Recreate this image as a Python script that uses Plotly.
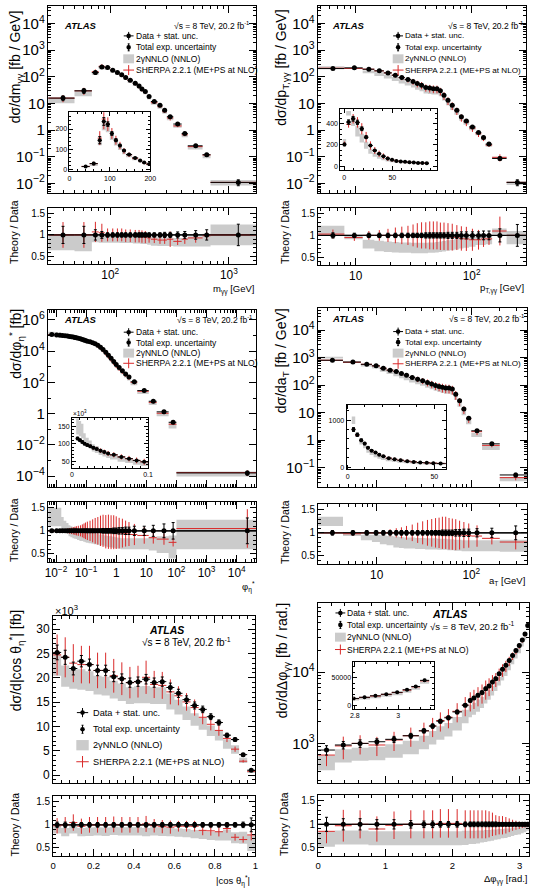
import numpy as np
import plotly.graph_objects as go

W, H = 543, 895
FONT = "Liberation Sans, Arial, Helvetica, sans-serif"
GREY = "#cbcbcb"
RED = "#d92a2a"

# ---------------- data: m_yy ----------------
myy_edges = [30, 50, 70, 80, 90, 100, 110, 120, 130, 140, 155, 170, 180, 190, 205, 220, 250, 275, 300, 340, 400, 450, 600, 700, 1700]
myy_xsec = [16, 30, 145, 237, 224, 178, 145, 119, 94, 75, 58, 45, 35, 28, 18.3, 11.9, 8.7, 5.6, 3.2, 1.7, 0.75, 0.26, 0.12, 0.011]
myy_tot = [0.2, 0.2, 0.12, 0.08, 0.05, 0.05, 0.05, 0.05, 0.05, 0.05, 0.05, 0.05, 0.05, 0.05, 0.05, 0.05, 0.05, 0.06, 0.06, 0.07, 0.08, 0.1, 0.12, 0.25]
myy_nnlo_r = [0.82, 0.80, 0.92, 0.90, 0.90, 0.90, 0.90, 0.89, 0.89, 0.89, 0.88, 0.88, 0.87, 0.87, 0.86, 0.85, 0.84, 0.84, 0.84, 0.83, 0.83, 0.85, 0.88, 1.0]
myy_nnlo_hw = [0.18, 0.18, 0.09, 0.08, 0.08, 0.08, 0.08, 0.08, 0.08, 0.08, 0.08, 0.08, 0.08, 0.08, 0.09, 0.1, 0.1, 0.1, 0.1, 0.1, 0.1, 0.12, 0.15, 0.24]
myy_sherpa_r = [1.0, 1.0, 1.07, 1.05, 1.0, 1.0, 1.0, 1.0, 0.98, 0.98, 0.97, 0.97, 0.96, 0.95, 0.93, 0.9, 0.88, 0.88, 0.9, 0.85, 0.9, 0.93, 0.98, 1.0]
myy_sherpa_e = [0.3, 0.3, 0.22, 0.2, 0.15, 0.15, 0.15, 0.15, 0.15, 0.15, 0.15, 0.15, 0.15, 0.15, 0.12, 0.1, 0.1, 0.1, 0.2, 0.1, 0.12, 0.12, 0.1, 0.05]

# ---------------- data: pT,yy ----------------
pt_edges = [4.75, 8, 11.5, 14.5, 17.5, 20.5, 23.5, 26.5, 30, 32.5, 35.5, 38.5, 42, 45, 48.5, 52, 55.5, 60, 65, 71, 78, 85, 95, 108, 121, 132, 150, 200, 295]
pt_xsec = [205, 218, 194, 168, 141, 116, 94, 79, 67, 56, 49, 40, 38, 36, 35.5, 30, 20.5, 13.3, 8.7, 5.6, 3.2, 2.2, 1.33, 0.82, 0.53, 0.3, 0.087, 0.011]
pt_tot = [0.06, 0.05, 0.05, 0.05, 0.05, 0.05, 0.05, 0.05, 0.05, 0.05, 0.05, 0.06, 0.06, 0.06, 0.06, 0.06, 0.06, 0.07, 0.07, 0.07, 0.08, 0.08, 0.08, 0.08, 0.1, 0.1, 0.15, 0.25]
pt_nnlo_r = [1.12, 0.96, 0.8, 0.76, 0.74, 0.73, 0.72, 0.72, 0.71, 0.71, 0.71, 0.71, 0.72, 0.72, 0.73, 0.74, 0.75, 0.77, 0.78, 0.8, 0.82, 0.84, 0.86, 0.88, 0.88, 0.9, 1.1, 0.95]
pt_nnlo_hw = [0.1, 0.05, 0.1, 0.12, 0.12, 0.12, 0.12, 0.12, 0.12, 0.12, 0.12, 0.12, 0.12, 0.12, 0.12, 0.12, 0.12, 0.12, 0.12, 0.12, 0.12, 0.12, 0.12, 0.1, 0.1, 0.1, 0.06, 0.15]
pt_sherpa_r = [1.03, 0.95, 1.0, 1.0, 1.0, 1.0, 1.0, 1.0, 1.0, 1.0, 1.0, 1.0, 1.0, 1.0, 1.0, 0.98, 0.98, 0.97, 0.96, 0.95, 0.93, 0.92, 0.9, 0.9, 0.92, 0.92, 1.1, 1.0]
pt_sherpa_e = [0.1, 0.08, 0.1, 0.12, 0.15, 0.18, 0.2, 0.22, 0.25, 0.28, 0.3, 0.3, 0.32, 0.32, 0.32, 0.32, 0.32, 0.32, 0.32, 0.3, 0.3, 0.3, 0.28, 0.25, 0.2, 0.15, 0.3, 0.05]
# pT inset (linear view)
pt_in_edges = [-1.5, 2, 7, 11.5, 16, 20.5, 25, 29.5, 34, 38.5, 43, 47.5, 52, 56.5, 61, 65.5, 70, 74.5, 79, 83.5, 88]
pt_in_xsec = [205, 416, 447, 413, 353, 274, 195, 148, 117, 94, 72, 60, 50, 44, 41, 38, 35, 31, 31, 28]
pt_in_nnlo_r = [1.15, 1.2, 0.95, 0.8, 0.75, 0.72, 0.72, 0.72, 0.72, 0.72, 0.73, 0.74, 0.75, 0.76, 0.77, 0.78, 0.8, 0.82, 0.84, 0.85]

# ---------------- data: phi_eta* ----------------
phi_edges = [0.0055, 0.009, 0.012, 0.015, 0.018, 0.022, 0.026, 0.03, 0.035, 0.04, 0.045, 0.05, 0.06, 0.07, 0.08, 0.09, 0.1, 0.12, 0.15, 0.18, 0.22, 0.27, 0.33, 0.4, 0.5, 0.6, 0.75, 0.9, 1.1, 1.4, 1.8, 2.3, 3, 5, 12, 22, 55, 100, 45000]
phi_xsec = [115000, 110000, 105000, 100000, 96000, 93000, 88000, 85000, 80000, 76000, 72000, 68000, 62000, 57000, 52000, 48000, 44000, 40000, 35000, 30000, 24000, 18000, 13000, 8500, 5500, 3500, 2200, 1400, 900, 560, 350, 220, 110, 30, 6.2, 1.3, 0.28, 0.00016]
phi_tot = [0.03, 0.03, 0.03, 0.03, 0.03, 0.03, 0.03, 0.03, 0.03, 0.03, 0.03, 0.03, 0.03, 0.03, 0.03, 0.03, 0.04, 0.04, 0.04, 0.04, 0.04, 0.04, 0.05, 0.05, 0.05, 0.05, 0.06, 0.06, 0.07, 0.07, 0.08, 0.08, 0.1, 0.1, 0.12, 0.15, 0.18, 0.28]
phi_nnlo_r = [1.3, 1.3, 1.3, 1.15, 1.1, 1.05, 1.0, 0.98, 0.96, 0.95, 0.94, 0.92, 0.9, 0.9, 0.88, 0.87, 0.86, 0.85, 0.84, 0.83, 0.82, 0.8, 0.8, 0.78, 0.77, 0.76, 0.75, 0.74, 0.73, 0.72, 0.72, 0.72, 0.72, 0.72, 0.72, 0.7, 0.65, 0.92]
phi_nnlo_hw = [0.2, 0.2, 0.2, 0.15, 0.12, 0.12, 0.12, 0.12, 0.12, 0.12, 0.12, 0.12, 0.12, 0.12, 0.12, 0.12, 0.12, 0.12, 0.12, 0.12, 0.12, 0.12, 0.12, 0.12, 0.12, 0.12, 0.12, 0.12, 0.12, 0.12, 0.12, 0.12, 0.12, 0.12, 0.15, 0.18, 0.25, 0.32]
phi_sherpa_r = [1.0, 1.0, 1.0, 1.0, 1.0, 1.0, 1.0, 1.0, 1.0, 1.0, 1.0, 1.0, 1.0, 1.0, 1.0, 1.0, 1.0, 1.0, 1.0, 1.0, 1.0, 1.0, 1.0, 0.98, 0.98, 0.97, 0.97, 0.96, 0.95, 0.95, 0.94, 0.93, 0.92, 0.9, 0.85, 0.82, 0.75, 1.05]
phi_sherpa_e = [0.02, 0.02, 0.03, 0.03, 0.04, 0.05, 0.06, 0.07, 0.08, 0.09, 0.1, 0.11, 0.12, 0.14, 0.16, 0.18, 0.2, 0.22, 0.25, 0.28, 0.3, 0.33, 0.35, 0.37, 0.38, 0.38, 0.38, 0.37, 0.35, 0.33, 0.3, 0.28, 0.25, 0.2, 0.15, 0.15, 0.12, 0.4]

# ---------------- data: a_T ----------------
at_edges = [2.4, 4.4, 6.8, 8.9, 10.8, 12.7, 15, 17.2, 19.3, 22, 25.5, 28.7, 32.5, 36.3, 40, 43.8, 47.5, 51.5, 55.8, 60.5, 65.5, 71.5, 79, 88, 100, 130, 200, 390]
at_xsec = [800, 690, 570, 500, 410, 350, 310, 265, 230, 190, 165, 145, 125, 110, 97, 90, 83, 78, 78, 72, 47, 27, 13.5, 6.3, 2.2, 0.74, 0.055]
at_tot = [0.05, 0.05, 0.05, 0.05, 0.05, 0.05, 0.05, 0.05, 0.05, 0.05, 0.05, 0.05, 0.05, 0.05, 0.05, 0.05, 0.06, 0.06, 0.06, 0.06, 0.07, 0.07, 0.08, 0.08, 0.09, 0.1, 0.15]
at_nnlo_r = [1.25, 0.97, 0.9, 0.88, 0.85, 0.83, 0.8, 0.79, 0.78, 0.78, 0.77, 0.77, 0.76, 0.76, 0.76, 0.75, 0.75, 0.75, 0.74, 0.74, 0.73, 0.73, 0.72, 0.72, 0.72, 0.72, 0.72]
at_nnlo_hw = [0.1, 0.04, 0.06, 0.08, 0.1, 0.1, 0.12, 0.12, 0.12, 0.12, 0.12, 0.12, 0.12, 0.12, 0.12, 0.12, 0.12, 0.12, 0.12, 0.12, 0.12, 0.12, 0.12, 0.12, 0.12, 0.12, 0.13]
at_sherpa_r = [1.0, 0.98, 1.0, 1.0, 1.0, 1.0, 1.0, 1.0, 1.0, 1.0, 1.0, 1.0, 1.0, 1.0, 1.0, 1.0, 1.0, 1.0, 0.98, 0.97, 0.96, 0.95, 0.95, 0.94, 0.93, 0.88, 0.8]
at_sherpa_e = [0.05, 0.05, 0.05, 0.05, 0.06, 0.08, 0.1, 0.12, 0.15, 0.18, 0.22, 0.25, 0.28, 0.3, 0.32, 0.33, 0.35, 0.35, 0.35, 0.35, 0.35, 0.33, 0.3, 0.28, 0.25, 0.15, 0.2]

# ---------------- data: |cos theta_eta*| (values in 10^3 fb) ----------------
cos_edges = [0, 0.04, 0.08, 0.12, 0.16, 0.2, 0.24, 0.28, 0.32, 0.36, 0.4, 0.44, 0.48, 0.52, 0.56, 0.6, 0.64, 0.68, 0.72, 0.76, 0.8, 0.84, 0.88, 0.92, 0.96, 1.0]
cos_xsec = [25.2, 24.2, 21.9, 23.4, 22.7, 21.5, 21.5, 20.2, 19.8, 19.0, 19.2, 19.7, 19.0, 19.2, 18.0, 16.8, 15.5, 14.3, 13.5, 12.0, 10.8, 8.2, 7.3, 4.2, 1.0]
cos_tot = [0.06, 0.06, 0.06, 0.05, 0.05, 0.05, 0.05, 0.05, 0.05, 0.05, 0.05, 0.05, 0.05, 0.05, 0.05, 0.05, 0.05, 0.05, 0.05, 0.05, 0.05, 0.05, 0.05, 0.06, 0.15]
cos_nnlo_r = [0.9, 0.84, 0.9, 0.84, 0.85, 0.86, 0.85, 0.87, 0.86, 0.86, 0.86, 0.84, 0.86, 0.85, 0.84, 0.83, 0.82, 0.8, 0.78, 0.76, 0.76, 0.78, 0.72, 0.72, 0.6]
cos_nnlo_hw = [0.09, 0.09, 0.09, 0.09, 0.09, 0.09, 0.09, 0.09, 0.09, 0.09, 0.09, 0.09, 0.09, 0.09, 0.09, 0.09, 0.09, 0.09, 0.09, 0.09, 0.1, 0.12, 0.12, 0.13, 0.17]
cos_sherpa_r = [0.98, 1.0, 1.05, 0.97, 1.0, 1.0, 1.0, 1.01, 1.0, 1.0, 1.0, 1.02, 0.98, 0.96, 0.95, 0.97, 0.97, 0.97, 0.88, 0.87, 0.85, 0.92, 0.73, 0.68, 0.78]
cos_sherpa_e = [0.17, 0.17, 0.17, 0.17, 0.17, 0.17, 0.17, 0.17, 0.17, 0.17, 0.17, 0.17, 0.15, 0.15, 0.15, 0.12, 0.12, 0.12, 0.12, 0.12, 0.12, 0.1, 0.1, 0.1, 0.15]

# ---------------- data: delta phi_yy ----------------
dphi_edges = [0, 0.25, 0.5, 0.75, 1.0, 1.26, 1.5, 1.65, 1.76, 1.88, 2.0, 2.14, 2.24, 2.29, 2.35, 2.41, 2.47, 2.52, 2.57, 2.62, 2.67, 2.72, 2.77, 2.82, 2.87, 2.92, 2.97, 3.02, 3.06, 3.1, 3.1416]
dphi_xsec = [807, 950, 1000, 1055, 1140, 1280, 1500, 1750, 2050, 2280, 2760, 3430, 4000, 4330, 4720, 5150, 5850, 6380, 7240, 8070, 9480, 10900, 12400, 14500, 17100, 20000, 23500, 28000, 34000, 45000]
dphi_tot = [0.15, 0.12, 0.12, 0.1, 0.1, 0.08, 0.07, 0.07, 0.06, 0.06, 0.06, 0.05, 0.05, 0.05, 0.05, 0.05, 0.05, 0.05, 0.05, 0.05, 0.04, 0.04, 0.04, 0.04, 0.04, 0.04, 0.04, 0.04, 0.04, 0.04]
dphi_nnlo_r = [0.68, 0.72, 0.72, 0.7, 0.7, 0.7, 0.7, 0.7, 0.7, 0.7, 0.7, 0.71, 0.72, 0.72, 0.73, 0.74, 0.75, 0.76, 0.77, 0.78, 0.79, 0.8, 0.81, 0.82, 0.84, 0.85, 0.86, 0.88, 0.9, 0.92]
dphi_nnlo_hw = [0.16, 0.15, 0.15, 0.15, 0.15, 0.15, 0.15, 0.15, 0.15, 0.15, 0.15, 0.15, 0.14, 0.14, 0.14, 0.13, 0.13, 0.12, 0.12, 0.11, 0.11, 0.1, 0.1, 0.09, 0.09, 0.08, 0.08, 0.07, 0.07, 0.06]
dphi_sherpa_r = [0.85, 0.97, 1.0, 0.9, 0.98, 1.0, 1.0, 1.0, 1.02, 1.02, 1.02, 1.0, 1.0, 1.0, 1.0, 1.0, 1.0, 1.0, 1.0, 0.98, 0.98, 0.98, 0.98, 0.98, 0.98, 0.98, 0.98, 0.98, 0.98, 0.98]
dphi_sherpa_e = [0.3, 0.35, 0.3, 0.3, 0.3, 0.3, 0.3, 0.3, 0.3, 0.3, 0.3, 0.3, 0.3, 0.3, 0.3, 0.3, 0.3, 0.28, 0.25, 0.22, 0.2, 0.2, 0.18, 0.15, 0.12, 0.1, 0.08, 0.06, 0.05, 0.04]

# ---------------- helpers ----------------
fig = go.Figure()
L = dict(width=W, height=H, margin=dict(l=0, r=0, t=0, b=0), paper_bgcolor="white",
         plot_bgcolor="white", showlegend=False, font=dict(family=FONT, color="black"))
shapes, annots = [], []
naxes = [0]


def fx(px):
    return px / W


def fy(py):
    return 1 - py / H


MINLOG = dict(ticks="inside", ticklen=3, tickcolor="black", dtick="D1")


def add_axes(xpx, ypx, xtype, xrange, ytype, yrange, xkw, ykw):
    naxes[0] += 1
    n = naxes[0]
    sfx = "" if n == 1 else str(n)
    xname, yname = "x" + sfx, "y" + sfx
    base = dict(showline=True, linecolor="black", linewidth=1, mirror="allticks", ticks="inside",
                tickcolor="black", tickwidth=1, showgrid=False, zeroline=False, fixedrange=True)
    xa = dict(base, domain=[fx(xpx[0]), fx(xpx[1])], type=xtype, range=xrange, anchor=yname)
    xa.update(xkw)
    ya = dict(base, domain=[fy(ypx[1]), fy(ypx[0])], type=ytype, range=yrange, anchor=xname)
    ya.update(ykw)
    L["xaxis" + sfx] = xa
    L["yaxis" + sfx] = ya
    return xname, yname


def draw_group(xn, yn, edges, vals, tot, nr, nhw, sr, se, ratio=False, scale=1.0, msize=5, xline=None):
    e = np.asarray(edges, float)
    lo, hi = e[:-1], e[1:]
    c = 0.5 * (lo + hi)
    v = np.ones_like(c) if ratio else np.asarray(vals, float) * scale
    nr, nhw, sr, se, tot = [np.asarray(a, float)[:len(c)] for a in (nr, nhw, sr, se, tot)]
    blo, bhi = v * (nr - nhw), v * (nr + nhw)
    bx, by = [], []
    for a, b, p, q in zip(lo, hi, blo, bhi):
        bx += [a, b, b, a, a, None]
        by += [p, p, q, q, p, None]
    fig.add_trace(go.Scatter(x=bx, y=by, xaxis=xn, yaxis=yn, mode="lines", fill="toself",
                             fillcolor=GREY, line=dict(width=0, color=GREY), hoverinfo="skip"))
    if xline is not None:
        fig.add_trace(go.Scatter(x=xline, y=[1, 1], xaxis=xn, yaxis=yn, mode="lines",
                                 line=dict(color="black", width=1.2), hoverinfo="skip"))
    s = v * sr
    sx, sy = [], []
    for a, b, m, q, ee in zip(lo, hi, c, s, se):
        sx += [a, b, None, m, m, None]
        sy += [q, q, None, q * (1 - ee), q * (1 + ee), None]
    fig.add_trace(go.Scatter(x=sx, y=sy, xaxis=xn, yaxis=yn, mode="lines",
                             line=dict(color=RED, width=1), hoverinfo="skip"))
    dx, dy = [], []
    for a, b, q in zip(lo, hi, v):
        dx += [a, b, None]
        dy += [q, q, None]
    fig.add_trace(go.Scatter(x=dx, y=dy, xaxis=xn, yaxis=yn, mode="lines",
                             line=dict(color="black", width=1), hoverinfo="skip"))
    fig.add_trace(go.Scatter(x=c, y=v, xaxis=xn, yaxis=yn, mode="markers",
                             marker=dict(color="black", size=msize),
                             error_y=dict(type="data", array=v * tot, color="black", thickness=1, width=1.5),
                             hoverinfo="skip"))


def txt(x, y, s, size, xanchor="left", yanchor="middle", angle=0):
    annots.append(dict(x=fx(x), y=fy(y), xref="paper", yref="paper", text=s, showarrow=False,
                       font=dict(size=size, family=FONT, color="black"), xanchor=xanchor,
                       yanchor=yanchor, textangle=angle, borderpad=0))


def pline(x0, y0, x1, y1, color="black", width=1):
    shapes.append(dict(type="line", xref="paper", yref="paper", x0=fx(x0), x1=fx(x1), y0=fy(y0), y1=fy(y1),
                       line=dict(color=color, width=width)))


def prect(x0, y0, x1, y1, color):
    shapes.append(dict(type="rect", xref="paper", yref="paper", x0=fx(x0), x1=fx(x1), y0=fy(y1), y1=fy(y0),
                       fillcolor=color, line=dict(width=0)))


def pcirc(x, y, r):
    shapes.append(dict(type="circle", xref="paper", yref="paper", x0=fx(x - r), x1=fx(x + r), y0=fy(y + r),
                       y1=fy(y - r), fillcolor="black", line=dict(width=0)))


def legend(sx, tx, ys, fs, k=1.0):
    y = ys[0]
    pline(sx - 5 * k, y, sx + 5 * k, y)
    pline(sx, y - 4 * k, sx, y + 4 * k)
    pcirc(sx, y, 2.3)
    txt(tx, y, "Data + stat. unc.", fs)
    y = ys[1]
    pline(sx, y - 3.5 * k, sx, y + 3.5 * k)
    pline(sx - 1, y - 3.5 * k, sx + 1, y - 3.5 * k)
    pline(sx - 1, y + 3.5 * k, sx + 1, y + 3.5 * k)
    pcirc(sx, y, 2.3)
    txt(tx, y, "Total exp. uncertainty", fs)
    y = ys[2]
    prect(sx - 5.5 * k, y - 4.5 * k, sx + 5.5 * k, y + 4.5 * k, GREY)
    txt(tx, y, "2γNNLO (NNLO)", fs)
    y = ys[3]
    pline(sx - 5.5 * k, y, sx + 5.5 * k, y, RED)
    pline(sx, y - 5 * k, sx, y + 5 * k, RED)
    txt(tx, y, "SHERPA 2.2.1 (ME+PS at NLO)", fs)


TF_MAIN = dict(size=12)
TF_RAT = dict(size=9.5)
TF_IN = dict(size=7)
RAT_Y = dict(dtick=0.5, tick0=0, ticklen=6, tickfont=dict(size=10),
             minor=dict(ticks="inside", ticklen=3, dtick=0.1, tickcolor="black"))
RAT_RANGE = [0.32, 1.62]


def logx_main():
    return dict(showticklabels=False, dtick=1, ticklen=7, minor=MINLOG)


def logx_rat():
    return dict(dtick=1, exponentformat="power", ticklen=7, tickfont=TF_RAT, minor=MINLOG)


def logy_main(dt=1, mdt="D1"):
    return dict(dtick=dt, exponentformat="power", ticklen=7, tickfont=TF_MAIN,
                minor=dict(ticks="inside", ticklen=3, tickcolor="black", dtick=mdt))


def inset_axes(xpx, ypx, xr, yr, xdt, ydt, xmin, ymin, x0=0):
    return add_axes(xpx, ypx, "linear", xr, "linear", yr,
                    dict(dtick=xdt, tick0=x0, ticklen=4, tickfont=TF_IN,
                         minor=dict(ticks="inside", ticklen=2, dtick=xmin, tickcolor="black")),
                    dict(dtick=ydt, tick0=0, ticklen=4, tickfont=TF_IN, tickformat="d",
                         minor=dict(ticks="inside", ticklen=2, dtick=ymin, tickcolor="black")))


def panel(xpx, ypx_main, ypx_rat, xtype, xr, ytype, yr, ykw, data, mscale=1.0, xkw_main=None, xkw_rat=None):
    edges, vals, tot, nr, nhw, sr, se = data
    xm, ym = add_axes(xpx, ypx_main, xtype, xr, ytype, yr, xkw_main, ykw)
    draw_group(xm, ym, edges, vals, tot, nr, nhw, sr, se, scale=mscale)
    xr_, yr_ = add_axes(xpx, ypx_rat, xtype, xr, "linear", RAT_RANGE, xkw_rat, dict(RAT_Y))
    xl = [10 ** xr[0], 10 ** xr[1]] if xtype == "log" else [xr[0], xr[1]]
    draw_group(xr_, yr_, edges, vals, tot, nr, nhw, sr, se, ratio=True, xline=xl)


# ---------------- Panel 1: m_yy ----------------
d1 = (myy_edges, myy_xsec, myy_tot, myy_nnlo_r, myy_nnlo_hw, myy_sherpa_r, myy_sherpa_e)
panel((45, 257), (5, 193), (208, 264), "log", [np.log10(30), np.log10(1700)], "log", [-2.37, 4.66],
      logy_main(), d1, xkw_main=logx_main(), xkw_rat=logx_rat())
xi, yi = inset_axes((66.7, 149), (111.7, 170.7), [0, 200], [-7, 282], 100, 100, 20, 20)
draw_group(xi, yi, *d1, msize=4)

# ---------------- Panel 2: pT ----------------
d2 = (pt_edges, pt_xsec, pt_tot, pt_nnlo_r, pt_nnlo_hw, pt_sherpa_r, pt_sherpa_e)
panel((320, 532), (5, 193), (208, 265), "log", [np.log10(4.75), np.log10(295)], "log", [-2.37, 4.66],
      logy_main(), d2, xkw_main=logx_main(), xkw_rat=logx_rat())
xi, yi = inset_axes((342.7, 440.7), (108.3, 170), [-4, 96], [-40, 540], 50, 200, 10, 50)
draw_group(xi, yi, pt_in_edges, pt_in_xsec, pt_tot, pt_in_nnlo_r, pt_nnlo_hw, pt_sherpa_r, pt_sherpa_e, msize=4)

# ---------------- Panel 3: phi_eta* ----------------
d3 = (phi_edges, phi_xsec, phi_tot, phi_nnlo_r, phi_nnlo_hw, phi_sherpa_r, phi_sherpa_e)
panel((45, 257), (310, 488), (503, 563), "log", [-2.26, 4.65], "log", [-4.72, 6.64],
      logy_main(2, 1), d3, xkw_main=logx_main(), xkw_rat=logx_rat())
xi, yi = inset_axes((69.3, 146.7), (418.3, 468.3), [0, 0.1], [31, 174], 0.1, 50, 0.01, 10)
draw_group(xi, yi, *d3, scale=1e-3, msize=4)

# ---------------- Panel 4: a_T ----------------
d4 = (at_edges, at_xsec, at_tot, at_nnlo_r, at_nnlo_hw, at_sherpa_r, at_sherpa_e)
panel((320, 533), (308, 488), (505, 565), "log", [np.log10(2.4), np.log10(390)], "log", [-1.71, 4.8],
      logy_main(), d4, xkw_main=logx_main(), xkw_rat=logx_rat())
xi, yi = inset_axes((349, 450), (405, 470), [-0.6, 56.6], [-50, 1330], 50, 1000, 10, 200)
draw_group(xi, yi, *d4, msize=4)

# ---------------- Panel 5: |cos theta| ----------------
d5 = (cos_edges, cos_xsec, cos_tot, cos_nnlo_r, cos_nnlo_hw, cos_sherpa_r, cos_sherpa_e)
lin_main5 = dict(showticklabels=False, dtick=0.2, ticklen=7,
                 minor=dict(ticks="inside", ticklen=3, dtick=0.04, tickcolor="black"))
lin_rat5 = dict(dtick=0.2, ticklen=7, tickfont=TF_RAT,
                minor=dict(ticks="inside", ticklen=3, dtick=0.04, tickcolor="black"))
panel((50, 256), (617, 785), (798, 858), "linear", [0, 1], "linear", [-1.7, 32.7],
      dict(dtick=5, ticklen=7, tickfont=TF_MAIN, minor=dict(ticks="inside", ticklen=3, dtick=1, tickcolor="black")),
      d5, xkw_main=lin_main5, xkw_rat=lin_rat5)

# ---------------- Panel 6: delta phi ----------------
d6 = (dphi_edges, dphi_xsec, dphi_tot, dphi_nnlo_r, dphi_nnlo_hw, dphi_sherpa_r, dphi_sherpa_e)
lin_main6 = dict(showticklabels=False, dtick=1, ticklen=7,
                 minor=dict(ticks="inside", ticklen=3, dtick=0.2, tickcolor="black"))
lin_rat6 = dict(dtick=1, ticklen=7, tickfont=TF_RAT,
                minor=dict(ticks="inside", ticklen=3, dtick=0.2, tickcolor="black"))
panel((320, 535), (604, 785), (797, 858), "linear", [0, 3.1416], "log", [2.44, 4.967],
      logy_main(), d6, xkw_main=lin_main6, xkw_rat=lin_rat6)
xi, yi = inset_axes((356, 438.3), (663.3, 710), [2.794, 3.165], [-6000, 78000], 0.2, 50000, 0.05, 10000, x0=2.8)
draw_group(xi, yi, *d6, msize=4)

# ---------------- text ----------------
SQ = "√s = 8 TeV, 20.2 fb<sup>-1</sup>"
ATL = "<b><i>ATLAS</i></b>"
# panel 1
txt(13, 8, "dσ/dm<sub>γγ</sub> [fb / GeV]", 14, "center", "top", -90)
txt(10, 232, "Theory / Data", 10.5, "center", "middle", -90)
txt(257, 289, "m<sub>γγ</sub> [GeV]", 9.5, "right", "middle")
txt(60, 24.5, ATL, 9.5)
txt(252, 24.5, SQ, 8.5, "right")
legend(127, 133, [35, 46.5, 58, 69.3], 8.5)
# panel 2
txt(283, 8, "dσ/dp<sub>T,γγ</sub> [fb / GeV]", 14, "center", "top", -90)
txt(286, 232, "Theory / Data", 10.5, "center", "middle", -90)
txt(531, 288, "p<sub>T,γγ</sub> [GeV]", 9.5, "right", "middle")
txt(333.3, 24.5, ATL, 9.5)
txt(531, 24.5, SQ, 8.5, "right")
legend(401.5, 407, [35, 46.5, 58, 69.3], 8.1)
# panel 3
txt(12, 308, "dσ/dφ<sub>η</sub><sup>*</sup> [fb]", 14, "center", "top", -90)
txt(10, 531, "Theory / Data", 10.5, "center", "middle", -90)
txt(257, 588, "φ<sub>η</sub><sup>*</sup>", 9.5, "right", "middle")
txt(60, 320, ATL, 9.5)
txt(255, 320, SQ, 8.5, "right")
legend(127, 133, [332.3, 342.7, 353.3, 363.5], 8.5)
txt(69, 413, "×10<sup>3</sup>", 6.5)
# panel 4
txt(284, 307, "dσ/da<sub>T</sub> [fb / GeV]", 14, "center", "top", -90)
txt(286, 533, "Theory / Data", 10.5, "center", "middle", -90)
txt(531.5, 582, "a<sub>T</sub> [GeV]", 9.5, "right", "middle")
txt(333.3, 318.5, ATL, 9.5)
txt(531.5, 318.5, SQ, 8.5, "right")
legend(401.5, 407, [331.7, 342.3, 353.3, 364], 8.1)
# panel 5
txt(13, 610, "dσ/d|cos θ<sub>η</sub><sup>*</sup>| [fb]", 14, "center", "top", -90)
txt(11.5, 826, "Theory / Data", 10.5, "center", "middle", -90)
txt(252, 883, "|cos θ<sub>η</sub><sup>*</sup>|", 9.5, "right", "middle")
txt(51, 611, "×10<sup>3</sup>", 11)
txt(146.7, 630.7, ATL, 10.5)
txt(140, 643.3, SQ, 10)
legend(80, 89.3, [714, 730.7, 746.7, 763.3], 9.2, k=1.15)
# panel 6
txt(285, 603, "dσ/dΔφ<sub>γγ</sub> [fb / rad.]", 14, "center", "top", -90)
txt(285, 826, "Theory / Data", 10.5, "center", "middle", -90)
txt(534, 881, "Δφ<sub>γγ</sub> [rad.]", 9.5, "right", "middle")
txt(435, 615, ATL, 10.5)
txt(433.3, 626.7, SQ, 9.5)
legend(342.7, 348.5, [614, 626, 638.3, 650.7], 8.5)

L["shapes"] = shapes
L["annotations"] = annots
fig.update_layout(**L)
fig.write_html("out.html")
